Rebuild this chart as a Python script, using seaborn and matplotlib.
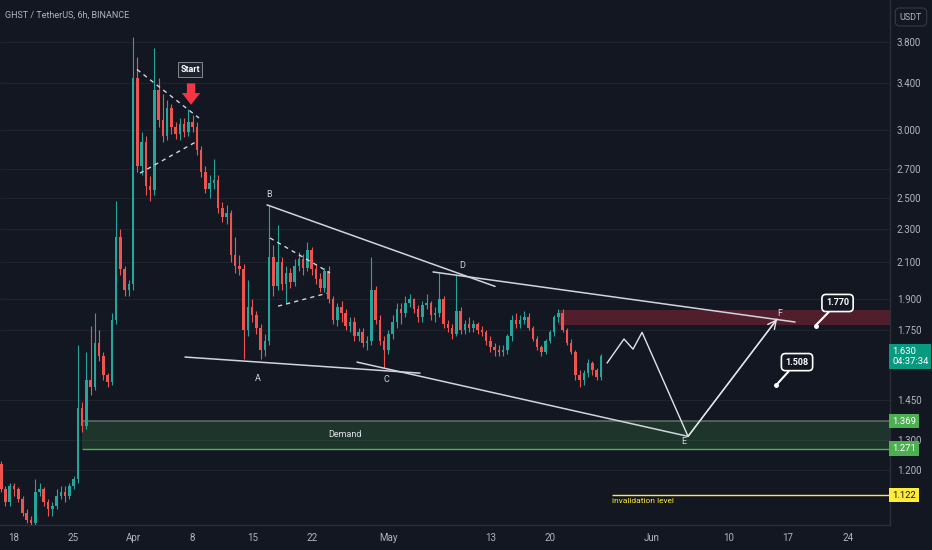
import numpy as np
import pandas as pd
import matplotlib
matplotlib.use('Agg')
import matplotlib.pyplot as plt
from matplotlib.ticker import FuncFormatter, NullLocator
import seaborn as sns

# 12h candles starting 2024-03-16 12:00
first_candle = '2024-03-16 12:00'
first_open = 1.22
close = [1.14, 1.10, 1.15, 1.14, 1.11, 1.07, 1.05, 1.04, 1.13, 1.14,
         1.10, 1.08, 1.09, 1.12, 1.13, 1.12, 1.15, 1.17, 1.42, 1.35,
         1.53, 1.50, 1.69, 1.63, 1.55, 1.52, 1.80, 2.25, 2.06, 1.95,
         1.98, 3.45, 2.72, 2.90, 2.58, 2.55, 3.34, 3.08, 2.95, 3.18,
         3.02, 2.97, 3.05, 2.98, 3.06, 3.02, 2.84, 2.68, 2.56, 2.60,
         2.62, 2.43, 2.37, 2.40, 2.14, 2.08, 2.06, 1.75, 1.86, 1.82,
         1.76, 1.66, 1.70, 2.13, 1.97, 2.10, 1.98, 2.04, 1.99, 2.08,
         2.12, 2.07, 2.17, 2.06, 2.01, 1.96, 2.05, 1.90, 1.80, 1.86,
         1.83, 1.77, 1.79, 1.72, 1.74, 1.69, 1.70, 1.95, 1.80, 1.70,
         1.66, 1.73, 1.79, 1.85, 1.83, 1.88, 1.90, 1.85, 1.81, 1.87,
         1.88, 1.82, 1.83, 1.90, 1.78, 1.76, 1.73, 1.84, 1.75, 1.78,
         1.76, 1.78, 1.75, 1.74, 1.70, 1.67, 1.66, 1.65, 1.66, 1.72,
         1.80, 1.78, 1.80, 1.81, 1.76, 1.71, 1.67, 1.65, 1.70, 1.74,
         1.81, 1.83, 1.75, 1.69, 1.65, 1.55, 1.53, 1.56, 1.60, 1.57,
         1.54, 1.63]
high = [1.23, 1.15, 1.16, 1.16, 1.145, 1.12, 1.08, 1.06, 1.17, 1.16,
        1.145, 1.11, 1.10, 1.14, 1.15, 1.15, 1.16, 1.18, 1.68, 1.44,
        1.65, 1.77, 1.83, 1.75, 1.65, 1.56, 1.83, 2.48, 2.30, 2.08,
        2.00, 3.85, 3.65, 2.98, 2.95, 2.65, 3.74, 3.45, 3.30, 3.25,
        3.22, 3.06, 3.10, 3.10, 3.17, 3.12, 3.06, 2.87, 2.72, 2.66,
        2.77, 2.66, 2.47, 2.45, 2.42, 2.25, 2.14, 2.09, 2.00, 1.90,
        1.84, 1.78, 1.73, 2.45, 2.20, 2.32, 2.13, 2.08, 2.07, 2.12,
        2.16, 2.15, 2.22, 2.19, 2.09, 2.04, 2.07, 2.08, 1.92, 1.88,
        1.89, 1.85, 1.81, 1.81, 1.76, 1.76, 1.72, 2.13, 1.97, 1.82,
        1.72, 1.75, 1.82, 1.88, 1.88, 1.92, 1.93, 1.91, 1.87, 1.89,
        1.93, 1.89, 1.86, 2.04, 1.92, 1.80, 1.78, 2.03, 1.86, 1.80,
        1.81, 1.80, 1.79, 1.77, 1.75, 1.72, 1.69, 1.68, 1.68, 1.73,
        1.82, 1.83, 1.82, 1.84, 1.83, 1.77, 1.72, 1.68, 1.71, 1.75,
        1.82, 1.85, 1.85, 1.76, 1.71, 1.66, 1.57, 1.57, 1.62, 1.61,
        1.58, 1.64]
low = [1.13, 1.09, 1.09, 1.12, 1.10, 1.06, 1.04, 1.035, 1.035, 1.12,
       1.09, 1.06, 1.06, 1.08, 1.11, 1.10, 1.11, 1.14, 1.16, 1.33,
       1.34, 1.47, 1.49, 1.61, 1.53, 1.50, 1.51, 1.78, 2.03, 1.92,
       1.92, 1.95, 2.68, 2.66, 2.52, 2.48, 2.52, 3.02, 2.90, 2.92,
       2.97, 2.93, 2.92, 2.94, 2.95, 2.98, 2.80, 2.64, 2.53, 2.50,
       2.56, 2.40, 2.34, 2.33, 2.10, 2.04, 2.03, 1.62, 1.72, 1.79,
       1.73, 1.62, 1.63, 1.68, 1.92, 1.95, 1.95, 1.88, 1.96, 1.97,
       2.05, 2.03, 2.05, 2.03, 1.98, 1.94, 1.94, 1.88, 1.78, 1.77,
       1.79, 1.75, 1.74, 1.70, 1.70, 1.67, 1.66, 1.68, 1.78, 1.68,
       1.58, 1.64, 1.71, 1.76, 1.78, 1.81, 1.86, 1.83, 1.79, 1.79,
       1.85, 1.80, 1.79, 1.81, 1.76, 1.74, 1.71, 1.72, 1.73, 1.73,
       1.74, 1.74, 1.73, 1.72, 1.68, 1.65, 1.63, 1.63, 1.63, 1.64,
       1.70, 1.76, 1.76, 1.78, 1.75, 1.70, 1.66, 1.63, 1.64, 1.69,
       1.72, 1.79, 1.74, 1.68, 1.64, 1.53, 1.50, 1.51, 1.54, 1.55,
       1.53, 1.53]

# axis ticks
price_ticks = [3.8, 3.4, 3.0, 2.7, 2.5, 2.3, 2.1, 1.9, 1.75, 1.45, 1.3, 1.2]
date_ticks = ['2024-03-18', '2024-03-25', '2024-04-01', '2024-04-08', '2024-04-15',
              '2024-04-22', '2024-05-01', '2024-05-13', '2024-05-20', '2024-06-01',
              '2024-06-10', '2024-06-17', '2024-06-24']
date_labels = ['18', '25', 'Apr', '8', '15', '22', 'May', '13', '20', 'Jun', '10', '17', '24']

# drawings
ac_line_t = ['2024-04-07 02:30', '2024-05-04 17:30']
ac_line_p = [1.627, 1.558]
ce_line_t = ['2024-04-27 07:40', '2024-06-05 05:45']
ce_line_p = [1.605, 1.314]
bd_line_t = ['2024-04-16 17:45', '2024-05-13 13:10']
bd_line_p = [2.451, 1.968]
df_line_t = ['2024-05-06 06:15', '2024-06-17 19:40']
df_line_p = [2.046, 1.788]
zig_t = ['2024-05-26 17:15', '2024-05-28 17:00', '2024-05-29 18:30',
         '2024-05-30 20:00', '2024-06-05 05:45', '2024-06-15 16:50']
zig_p = [1.601, 1.708, 1.662, 1.739, 1.314, 1.802]
tri1_up_t = ['2024-04-01 11:00', '2024-04-08 18:00']
tri1_up_p = [3.53, 3.097]
tri1_lo_t = ['2024-04-01 19:30', '2024-04-08 12:15']
tri1_lo_p = [2.67, 2.909]
tri2_up_t = ['2024-04-17 02:25', '2024-04-24 03:35']
tri2_up_p = [2.242, 2.041]
tri2_lo_t = ['2024-04-18 01:00', '2024-04-23 19:10']
tri2_lo_p = [1.866, 1.932]
wave_labels = ['A', 'B', 'C', 'D', 'E', 'F']
wave_t = ['2024-04-15 16:30', '2024-04-16 23:30', '2024-04-30 17:30',
          '2024-05-09 16:00', '2024-06-04 18:30', '2024-06-16 01:30']
wave_p = [1.537, 2.52, 1.533, 2.08, 1.296, 1.83]

demand_start, demand_lo, demand_hi = '2024-03-25 23:45', 1.271, 1.369
supply_start, supply_lo, supply_hi = '2024-05-20 23:00', 1.775, 1.845
invalid_start, invalid_p = '2024-05-27 07:15', 1.122
last_price = 1.630

BG = '#131722'
GREEN = '#26a69a'
RED = '#ef5350'
TXT = '#b2b5be'
GRID = '#1f232e'

sns.set_theme(style='dark', rc={'axes.facecolor': BG, 'figure.facecolor': BG,
                                'axes.edgecolor': '#2a2e39', 'text.color': TXT})
plt.rcParams['font.family'] = ['Roboto', 'DejaVu Sans']

T = pd.to_datetime

fig = plt.figure(figsize=(9.32, 5.5), dpi=100)
ax = fig.add_axes([0, 25 / 550, 890 / 932, 525 / 550])

# candles
times = pd.Timestamp(first_candle) + pd.to_timedelta(np.arange(len(close)) * 12, unit='h')
opens = [first_open] + close[:-1]
df = pd.DataFrame({'time': times, 'open': opens, 'high': high, 'low': low, 'close': close})
colors = np.where(df['close'] >= df['open'], GREEN, RED)
ax.vlines(df['time'], df['low'], df['high'], colors=colors, lw=0.8, zorder=3)
ax.bar(df['time'], (df['close'] - df['open']).abs().clip(lower=0.004),
       bottom=df[['open', 'close']].min(axis=1), width=0.3, color=colors,
       linewidth=0, zorder=3)

xmin, xmax = T('2024-03-16 08:30'), T('2024-06-28 23:30')

# zones
ax.fill_between([T(demand_start), xmax], demand_lo, demand_hi, color='#4caf50', alpha=0.2, lw=0, zorder=1)
ax.hlines(demand_hi, T(demand_start), xmax, color='#5b6b60', lw=1.2, zorder=2)
ax.hlines(demand_lo, T(demand_start), xmax, color='#4caf50', lw=1.0, zorder=2)
ax.text(T('2024-04-25 22:00'), 1.32, 'Demand', color='#e0e3eb', fontsize=6.5,
        ha='center', va='center', zorder=4)
ax.fill_between([T(supply_start), xmax], supply_lo, supply_hi, color='#f23645', alpha=0.28, lw=0, zorder=1)
ax.hlines(invalid_p, T(invalid_start), xmax, color='#ffeb3b', lw=1.0, zorder=2)
ax.text(T(invalid_start), invalid_p * 0.993, 'invalidation level', color='#ffeb3b',
        fontsize=6, ha='left', va='top', zorder=4)

# trend lines
for tt, pp in [(ac_line_t, ac_line_p), (ce_line_t, ce_line_p),
               (bd_line_t, bd_line_p), (df_line_t, df_line_p)]:
    ax.plot(T(tt), pp, color='#d1d4dc', lw=1.1, zorder=4)
for tt, pp in [(tri1_up_t, tri1_up_p), (tri1_lo_t, tri1_lo_p),
               (tri2_up_t, tri2_up_p), (tri2_lo_t, tri2_lo_p)]:
    ax.plot(T(tt), pp, color='#d1d4dc', lw=1.0, ls=(0, (3, 3)), zorder=4)

# projected path
sns.lineplot(x=T(zig_t), y=zig_p, sort=False, estimator=None, color='#e0e3eb',
             lw=1.0, ax=ax, zorder=4)
ax.annotate('', xy=(T(zig_t[-1]), zig_p[-1]), xytext=(T(zig_t[-2]), zig_p[-2]),
            arrowprops=dict(arrowstyle='->,head_length=0.5,head_width=0.25',
                            color='#e0e3eb', lw=1.0, shrinkA=0, shrinkB=0), zorder=4)

for lab, tt, pp in zip(wave_labels, wave_t, wave_p):
    ax.text(T(tt), pp, lab, color='#d1d4dc', fontsize=6.5, ha='center', va='center', zorder=5)

# start marker
ax.text(T('2024-04-07 16:30'), 3.53, 'Start', color='white', fontsize=6.5, fontweight='bold',
        ha='center', va='center', zorder=5,
        bbox=dict(boxstyle='square,pad=0.3', fc='#1e222d', ec='#9598a1', lw=0.6))
ax.annotate('', xy=(T('2024-04-07 19:30'), 3.21), xytext=(T('2024-04-07 19:30'), 3.40),
            arrowprops=dict(arrowstyle='simple,head_length=0.7,head_width=1.1,tail_width=0.5',
                            color='#f23645', lw=0, shrinkA=0, shrinkB=0),
            annotation_clip=False, zorder=5)

# price callouts
for txt, pt_t, pt_p, bx_t, bx_p in [('1.770', '2024-06-20 05:30', 1.771, '2024-06-22 19:30', 1.882),
                                    ('1.508', '2024-06-15 14:00', 1.508, '2024-06-18 01:10', 1.605)]:
    ax.annotate(txt, xy=(T(pt_t), pt_p), xytext=(T(bx_t), bx_p), color='white', fontsize=6.5,
                fontweight='bold', ha='center', va='center', zorder=6,
                bbox=dict(boxstyle='round,pad=0.45', fc=BG, ec='white', lw=1.2),
                arrowprops=dict(arrowstyle='-', color='white', lw=1.5, shrinkA=0, shrinkB=0))
    ax.plot(T(pt_t), pt_p, 'o', ms=2.5, color='white', zorder=6)

# axes
ax.set_yscale('log')
ax.set_ylim(1.035, 4.256)
ax.set_xlim(xmin, xmax)
ax.set_yticks(price_ticks)
ax.yaxis.set_major_formatter(FuncFormatter(lambda v, _: f'{v:.3f}'))
ax.yaxis.set_minor_locator(NullLocator())
ax.set_xticks(T(date_ticks))
ax.set_xticklabels(date_labels)
ax.yaxis.tick_right()
ax.tick_params(axis='y', length=0, pad=5, labelsize=7, colors=TXT)
ax.tick_params(axis='x', length=0, pad=6, labelsize=7, colors=TXT)
ax.grid(axis='y', color=GRID, lw=0.8)
ax.grid(axis='x', visible=False)
ax.set_xlabel('')
ax.set_ylabel('')
for s in ['top', 'left']:
    ax.spines[s].set_visible(False)
for s in ['right', 'bottom']:
    ax.spines[s].set_color('#2a2e39')
    ax.spines[s].set_linewidth(1.0)

# price tags on the scale
ytr = ax.get_yaxis_transform()
tags = [(last_price, '1.630\n04:37:34', '#089981', 'white'),
        (demand_hi, '1.369', '#4caf50', 'white'),
        (demand_lo, '1.271', '#4caf50', 'white'),
        (invalid_p, '1.122', '#ffeb3b', BG)]
for p, txt, fc, tc in tags:
    ax.text(1.0 + 2 / 890, p, txt, transform=ytr, ha='left', va='center', fontsize=6.8,
            color=tc, linespacing=1.1, clip_on=False, zorder=10,
            bbox=dict(boxstyle='square,pad=0.3', fc=fc, ec='none'))

fig.text(5 / 932, 1 - 15 / 550, 'GHST / TetherUS, 6h, BINANCE', ha='left', va='center',
         color=TXT, fontsize=6.5)
fig.text(911 / 932, 1 - 17 / 550, 'USDT', ha='center', va='center', color=TXT, fontsize=6.5,
         bbox=dict(boxstyle='round,pad=0.5', fc=BG, ec='#363a45', lw=0.8))

fig.savefig('out.png', dpi=100, facecolor=BG)
